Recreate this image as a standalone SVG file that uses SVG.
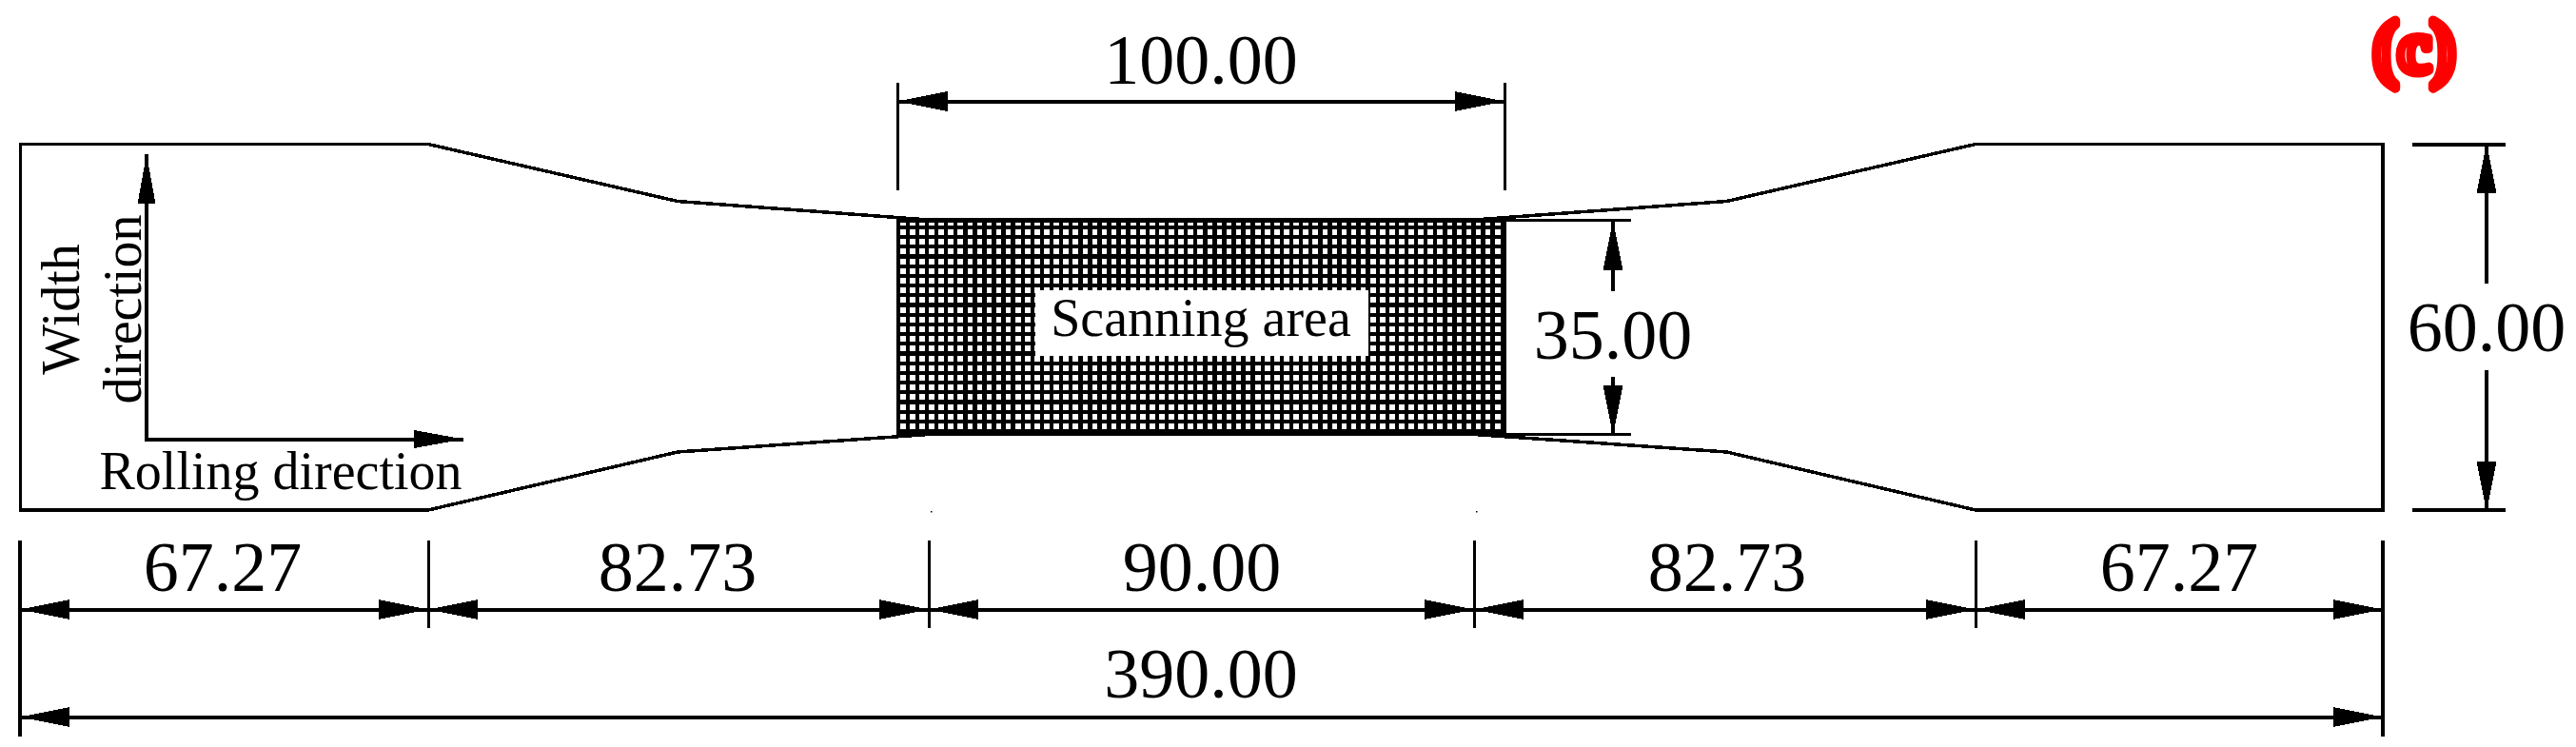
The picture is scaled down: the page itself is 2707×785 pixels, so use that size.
<svg xmlns="http://www.w3.org/2000/svg" width="2707" height="785" viewBox="0 0 2707 785">
<style>
text{font-family:"Liberation Serif","Times New Roman",serif;fill:#000}
.dim{font-size:74px;text-anchor:middle}
.lab{font-size:56px;text-anchor:middle}
.ln{stroke:#000;stroke-width:4;fill:none;shape-rendering:crispEdges}
.thin{stroke-width:3}
.d{marker-start:url(#ah);marker-end:url(#ah)}
.e{marker-end:url(#ah)}
.ax{marker-start:url(#ax);marker-end:url(#ax)}
</style>
<defs>
<marker id="ah" markerUnits="userSpaceOnUse" markerWidth="53" markerHeight="22" refX="52" refY="10.5" orient="auto-start-reverse"><path d="M0,0L52,10.5L0,21Z" fill="#000" shape-rendering="crispEdges"/></marker>
<marker id="ax" markerUnits="userSpaceOnUse" markerWidth="53" markerHeight="20" refX="52" refY="9.5" orient="auto-start-reverse"><path d="M0,0L52,9.5L0,19Z" fill="#000" shape-rendering="crispEdges"/></marker>
</defs>
<rect width="2707" height="785" fill="#fff"/>
<g id="specimen">
<polygon class="ln" style="stroke-width:3.5" points="21.7,151.5 450,151.5 712,211.5 976,231 1549,231 1814.5,211.5 2076,151.5 2504,151.5 2504,536 2076,536 1814.5,475 1549,456.5 976,456.5 712,475 450,536 21.7,536"/>
</g>
<g id="scanning-area">
<rect x="942.3" y="230" width="640.4" height="228" fill="#fff"/>
<path class="ln" style="stroke-width:228;stroke-dasharray:4.48 5.6" d="M941.52 344H1582.7"/>
<path class="ln" style="stroke-width:640.4;stroke-dasharray:4.3 5.9" d="M1262.5 236.7V458"/>
<rect class="ln" x="944.3" y="232" width="636.4" height="224"/>
<rect x="1088" y="305" width="350" height="69" fill="#fff"/>
<text class="lab" x="1262" y="352.5">Scanning area</text>
</g>
<g id="connectors">
<path class="ln" d="M21 568V774M2504 568V774M2535 151.5H2633M2535 536.3H2633"/>
<path class="ln thin" d="M943.6 87V200M1581 87V200M450 568V660M976 568V660M1549 568V660M2076 568V660M1582 231H1714M1582 456.3H1714"/>
<path class="ln d" d="M943.6 106.5H1581"/>
<path class="ln d" d="M21 640.5H450"/>
<path class="ln d" d="M450 640.5H976"/>
<path class="ln d" d="M976 640.5H1549"/>
<path class="ln d" d="M1549 640.5H2076"/>
<path class="ln d" d="M2076 640.5H2504"/>
<path class="ln d" d="M21 753.5H2504"/>
<path class="ln e" d="M1695 306V232"/>
<path class="ln e" d="M1695 396V457"/>
<path class="ln e" d="M2613 298V151"/>
<path class="ln e" d="M2613 389V537"/>
<path class="ln ax" d="M154 162V461.5H487"/>
</g>
<g id="labels">
<text class="dim" x="1262" y="87.5">100.00</text>
<text class="dim" x="1695" y="377">35.00</text>
<text class="dim" x="2613" y="369">60.00</text>
<text class="dim" x="234" y="621">67.27</text>
<text class="dim" x="712" y="621">82.73</text>
<text class="dim" x="1263" y="621">90.00</text>
<text class="dim" x="1815" y="621">82.73</text>
<text class="dim" x="2290" y="621">67.27</text>
<text class="dim" x="1262" y="733">390.00</text>
<text class="lab" x="295" y="513.5">Rolling direction</text>
<text class="lab" transform="translate(83 325) rotate(-90)">Width</text>
<text class="lab" transform="translate(147.5 325) rotate(-90)">direction</text>
<text x="2537" y="76" font-size="78" font-weight="bold" text-anchor="middle" style="fill:#fff" stroke="#f00" stroke-width="10" stroke-linejoin="round">(c)</text>
</g>
<g id="specks" fill="#000"><rect x="978" y="537" width="1.5" height="1.5"/><rect x="1551" y="537" width="1.5" height="1.5"/></g>
</svg>
